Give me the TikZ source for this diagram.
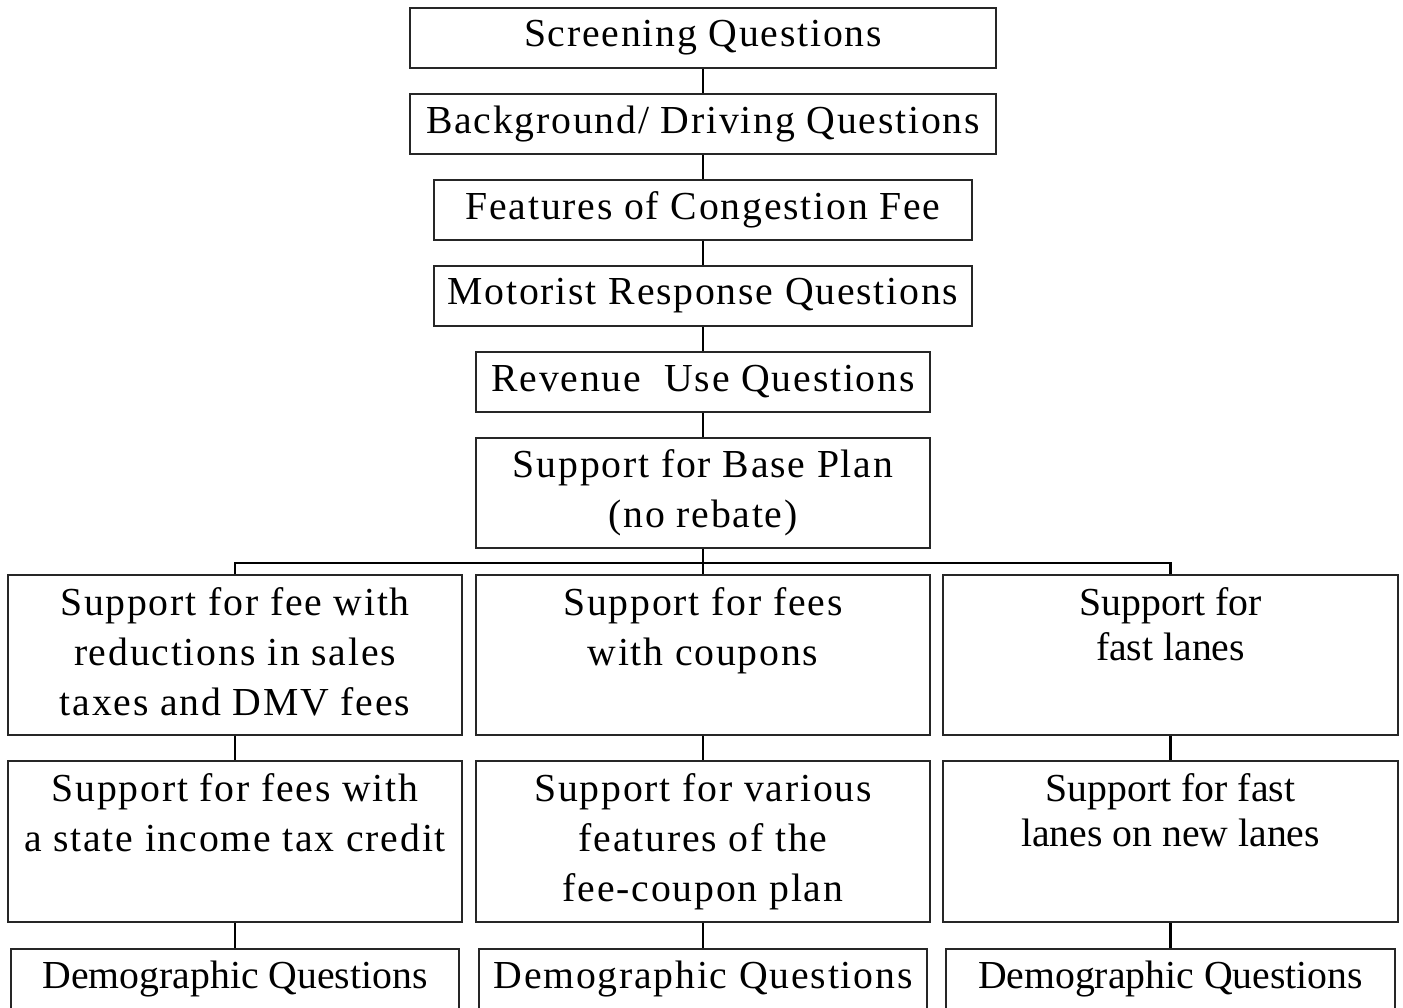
\documentclass[tikz,border=0pt]{standalone}
\usepackage{fontspec}
\setmainfont{Liberation Serif}
\newfontfamily\spaced[LetterSpace=4.5]{Liberation Serif}
\usetikzlibrary{positioning}

\tikzset{
  box/.style={draw=black!85, line width=0.45pt, inner sep=0pt, align=center},
  spc/.style={font=\spaced\fontsize{11.3}{14.2}\selectfont},
  pln/.style={font=\fontsize{11.3}{12.8}\selectfont},
  txt/.style={align=center, inner sep=0pt},
  link/.style={line width=0.7pt}
}

\begin{document}
\begin{tikzpicture}
\useasboundingbox (0,0) rectangle (14.03,-10.07);

% main stem
\node[box, spc, minimum width=58.6mm, minimum height=6mm] (screen) at (7.03,-0.38) {Screening Questions};
\node[box, spc, minimum width=58.6mm, minimum height=6mm] (backgr) at (7.03,-1.24) {Background/ Driving Questions};
\node[box, spc, minimum width=53.8mm, minimum height=6mm] (feat) at (7.03,-2.10) {Features of Congestion Fee};
\node[box, spc, minimum width=53.8mm, minimum height=6mm] (motor) at (7.03,-2.96) {Motorist Response Questions};
\node[box, spc, minimum width=45.4mm, minimum height=6mm] (revenue) at (7.03,-3.82) {Revenue\ \ Use Questions};
\node[box, spc, minimum width=45.4mm, minimum height=11mm] (base) at (7.03,-4.93) {Support for Base Plan\\(no rebate)};

% first row of options
\node[box, minimum width=45.4mm, minimum height=16mm] (feeTax) at (2.35,-6.55) {};
\node[txt, spc, below=1.3mm of feeTax.north] (feeTax-t) {Support for fee with\\reductions in sales\\taxes and DMV fees};
\node[box, minimum width=45.4mm, minimum height=16mm] (coupon) at (7.03,-6.55) {};
\node[txt, spc, below=1.3mm of coupon.north] (coupon-t) {Support for fees\\with coupons};
\node[box, minimum width=45.5mm, minimum height=16mm] (fastLane) at (11.705,-6.55) {};
\node[txt, pln, below=1.3mm of fastLane.north] (fastLane-t) {Support for\\fast lanes};

% second row of options
\node[box, minimum width=45.4mm, minimum height=16.1mm] (taxCredit) at (2.35,-8.415) {};
\node[txt, spc, below=1.3mm of taxCredit.north] (taxCredit-t) {Support for fees with\\a state income tax credit};
\node[box, minimum width=45.4mm, minimum height=16.1mm] (couponPlan) at (7.03,-8.415) {};
\node[txt, spc, below=1.3mm of couponPlan.north] (couponPlan-t) {Support for various\\features of the\\fee-coupon plan};
\node[box, minimum width=45.5mm, minimum height=16.1mm] (newLane) at (11.705,-8.415) {};
\node[txt, pln, below=1.3mm of newLane.north] (newLane-t) {Support for fast\\lanes on new lanes};

% demographics
\node[box, pln, minimum width=44.8mm, minimum height=6mm] (demoA) at (2.35,-9.79) {Demographic Questions};
\node[box, spc, minimum width=44.8mm, minimum height=6mm] (demoB) at (7.03,-9.79) {Demographic Questions};
\node[box, pln, minimum width=44.9mm, minimum height=6mm] (demoC) at (11.705,-9.79) {Demographic Questions};

% connectors
\coordinate (bus) at (7.03,-5.63);
\draw[link] (screen) -- (backgr);
\draw[link] (backgr) -- (feat);
\draw[link] (feat) -- (motor);
\draw[link] (motor) -- (revenue);
\draw[link] (revenue) -- (base);
\draw[link] (base) -- (coupon);
\draw[link] (feeTax.north) |- (bus) -| (fastLane.north);
\draw[link] (feeTax) -- (taxCredit);
\draw[link] (coupon) -- (couponPlan);
\draw[link] (fastLane) -- (newLane);
\draw[link] (taxCredit) -- (demoA);
\draw[link] (couponPlan) -- (demoB);
\draw[link] (newLane) -- (demoC);
\end{tikzpicture}
\end{document}
